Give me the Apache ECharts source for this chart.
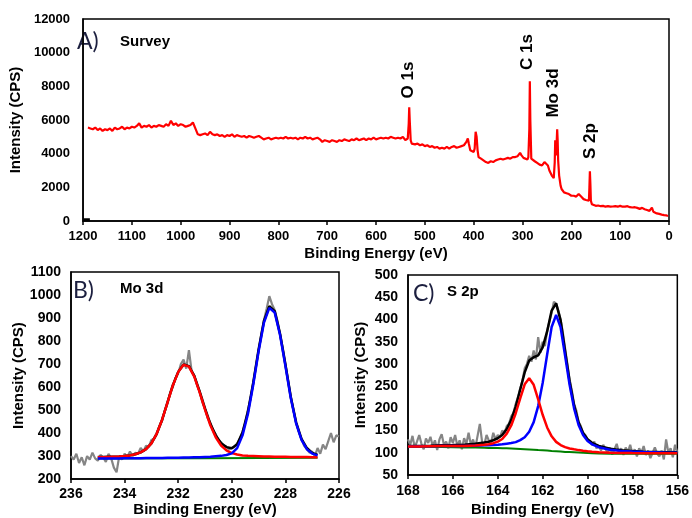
<!DOCTYPE html>
<html>
<head>
<meta charset="utf-8">
<script src="https://cdn.jsdelivr.net/npm/echarts@6/dist/echarts.min.js"></script>
<style>html,body{margin:0;padding:0;background:#fff}#c{width:692px;height:518px}</style>
</head>
<body>
<div id="c"></div>
<script>
// ---------- A) Survey ----------
const surveyE = [1190,1185,1180,1175,1170,1165,1160,1155,1150,1145,1140,1135,1130,1125,1120,1115,1110,1105,1100,1095,1090,1085,1080,1075,1070,1065,1060,1055,1050,1045,1040,1035,1030,1025,1020,1015,1010,1005,1000,995,990,985,980,975,970,965,960,955,950,945,940,935,930,925,920,915,910,905,900,895,890,885,880,875,870,865,860,855,850,845,840,835,830,825,820,815,810,805,800,795,790,785,780,775,770,765,760,755,750,745,740,735,730,725,720,715,710,705,700,695,690,685,680,675,670,665,660,655,650,645,640,635,630,625,620,615,610,605,600,595,590,585,580,575,570,565,560,555,550,545,540,537,535,533,532,531,529,527,525,520,515,510,505,500,495,490,485,480,475,470,465,460,455,450,445,440,435,430,425,420,415,412,410,407,403,400,398,396,394,392,390,385,380,375,370,365,360,355,350,345,340,335,330,325,320,315,310,305,302,298,295,290,288,286,285,284,282,280,275,270,265,260,255,252,248,245,240,236,234,233,232,231,230,229,228,227,225,222,220,215,210,205,200,195,190,185,180,175,170,167,164,163,162,161,160,158,155,150,145,140,135,130,125,120,115,110,105,100,98,95,90,85,80,75,70,65,60,55,50,45,40,35,32,30,25,20,15,10,5,2];
const surveyI = [5550,5500,5450,5550,5400,5500,5350,5450,5400,5500,5350,5550,5450,5500,5600,5450,5550,5500,5600,5550,5650,5800,5550,5650,5600,5700,5550,5650,5600,5700,5650,5600,5750,5650,5950,5700,5800,5650,5750,5700,5600,5650,5700,5850,5500,5150,5100,5150,5200,5100,5300,5150,5100,5150,5050,5100,5000,5100,5050,5150,5000,5100,5050,5000,5050,4950,5050,5000,4950,5000,5050,4950,4850,4900,4950,4850,4900,4950,4900,4950,4900,5000,4900,4950,4900,4950,4850,4950,4900,5000,4900,4950,4850,4900,4950,4850,4700,4800,4750,4700,4800,4750,4700,4800,4750,4850,4800,4750,4850,4800,4900,4800,4850,4900,4800,4900,4850,4950,4850,4900,4950,4900,4950,4900,5000,4950,4900,4950,4900,5000,4800,4700,4900,5800,6750,6000,4800,4600,4650,4550,4600,4500,4550,4450,4500,4400,4450,4350,4400,4300,4350,4300,4400,4300,4400,4450,4350,4400,4450,4500,4700,4900,4600,4200,4150,4100,4300,5300,5000,4200,3800,3700,3600,3500,3450,3550,3500,3600,3650,3700,3650,3700,3750,3700,3800,3800,3850,4050,3900,3750,3700,3650,3800,5500,8300,6000,3700,3600,3550,3450,3350,3300,3500,3550,3300,3000,2700,2550,3500,4800,4600,3900,4700,5450,4800,3600,2700,2100,1900,1700,1650,1600,1500,1500,1450,1600,1450,1300,1250,1150,1200,2000,2950,2200,1200,1000,950,900,920,880,900,850,880,850,860,880,850,900,1000,850,850,880,820,800,820,780,720,780,700,650,600,800,550,500,450,420,380,350,330,300];
const surveyPeaks = ['O 1s','C 1s','Mo 3d','S 2p'];

// ---------- B) Mo 3d ----------
const moRawE = [236.0,235.9,235.8,235.7,235.6,235.5,235.4,235.3,235.2,235.1,235.0,234.9,234.8,234.7,234.6,234.5,234.4,234.3,234.2,234.1,234.0,233.9,233.8,233.7,233.6,233.5,233.4,233.3,233.2,233.1,233.0,232.9,232.8,232.7,232.6,232.5,232.4,232.3,232.2,232.1,232.0,231.9,231.8,231.7,231.6,231.5,231.4,231.3,231.2,231.1,231.0,230.9,230.8,230.7,230.6,230.5,230.4,230.3,230.2,230.1,230.0,229.9,229.8,229.7,229.6,229.5,229.4,229.3,229.2,229.1,229.0,228.9,228.8,228.7,228.6,228.5,228.4,228.3,228.2,228.1,228.0,227.9,227.8,227.7,227.6,227.5,227.4,227.3,227.2,227.1,227.0,226.9,226.8,226.7,226.6,226.5,226.4,226.3,226.2,226.1,226.0];
const moRaw = [300,285,310,270,295,260,300,285,315,290,280,305,295,275,310,290,250,230,300,285,310,295,320,300,315,310,335,320,345,340,370,375,395,430,455,495,530,575,600,640,660,700,720,680,760,670,650,610,580,535,505,465,445,410,395,370,360,345,340,330,335,340,355,375,405,445,500,550,620,690,760,830,890,940,995,960,935,890,830,770,700,630,560,500,445,405,375,345,330,315,320,300,335,310,350,330,365,400,360,390,385];
const moFitE = [235.0,234.8,234.6,234.4,234.2,234.0,233.8,233.6,233.4,233.2,233.0,232.8,232.6,232.4,232.2,232.0,231.8,231.6,231.4,231.2,231.0,230.8,230.6,230.4,230.2,230.0,229.8,229.6,229.4,229.2,229.0,228.8,228.6,228.4,228.2,228.0,227.8,227.6,227.4,227.2,227.0,226.8];
const moRed = [295,295,296,297,298,300,303,308,316,330,355,398,458,532,607,665,697,689,645,577,502,434,382,346,325,313,307,303,301,300,299,298,298,297,297,297,296,296,296,296,295,295];
const moBlue = [290,290,290,290,290,291,291,291,291,292,292,292,292,293,293,293,294,294,295,295,296,297,299,301,305,312,335,390,482,610,755,880,944,924,826,692,552,442,370,330,311,303];
const moEnvelope = [296,296,297,297,298,300,303,308,316,330,355,398,458,533,608,666,698,691,649,581,507,440,390,356,339,334,351,402,492,619,763,887,951,930,832,698,557,447,375,335,314,305];
const moBgE = [235.0,231.0,226.8];
const moBg = [289,291,293];

// ---------- C) S 2p ----------
const sRawE = [168.0,167.9,167.8,167.7,167.6,167.5,167.4,167.3,167.2,167.1,167.0,166.9,166.8,166.7,166.6,166.5,166.4,166.3,166.2,166.1,166.0,165.9,165.8,165.7,165.6,165.5,165.4,165.3,165.2,165.1,165.0,164.9,164.8,164.7,164.6,164.5,164.4,164.3,164.2,164.1,164.0,163.9,163.8,163.7,163.6,163.5,163.4,163.3,163.2,163.1,163.0,162.9,162.8,162.7,162.6,162.5,162.4,162.3,162.2,162.1,162.0,161.9,161.8,161.7,161.6,161.5,161.4,161.3,161.2,161.1,161.0,160.9,160.8,160.7,160.6,160.5,160.4,160.3,160.2,160.1,160.0,159.9,159.8,159.7,159.6,159.5,159.4,159.3,159.2,159.1,159.0,158.9,158.8,158.7,158.6,158.5,158.4,158.3,158.2,158.1,158.0,157.9,157.8,157.7,157.6,157.5,157.4,157.3,157.2,157.1,157.0,156.9,156.8,156.7,156.6,156.5,156.4,156.3,156.2,156.1,156.0];
const sRaw = [130,118,138,112,125,140,120,108,132,122,136,115,128,106,130,142,118,125,110,135,122,140,115,128,108,133,120,145,118,130,112,138,165,125,118,140,128,122,145,130,140,135,150,145,160,165,182,190,210,225,245,262,290,300,318,305,330,310,360,325,350,340,375,395,415,440,435,420,400,370,335,300,265,240,210,195,170,160,145,140,130,125,118,125,110,115,105,118,108,100,112,96,108,120,100,110,95,112,102,118,98,108,92,110,100,115,95,105,88,100,112,98,92,105,85,130,100,110,90,118,100];
const sFitE = [168,167.5,167,166.5,166,165.5,165,164.6,164.4,164.2,164,163.8,163.6,163.4,163.2,163,162.8,162.6,162.4,162.2,162,161.8,161.6,161.4,161.2,161,160.8,160.6,160.4,160.2,160,159.8,159.5,159,158.5,158,157.5,157,156.5,156];
const sRed = [114,114,114.5,115,115,115.3,116.6,118,119,121.6,125,131,143,161.5,189,222.5,254,267.5,253,220,185.5,157,137,124.5,117.4,112.6,109.5,107.7,106,104.6,103.5,102.5,101.4,100.2,99.7,99.3,99,99,99,99];
const sBlue = [114,114.5,114.7,115,115,115,116,116.7,116.8,117.6,118.2,119,120.5,122,124,128.5,135,147.5,169,205,257,321,383,410,382,318,253,200,162.5,140,126.5,119,112.5,107,104,102.6,101.5,101,100,100];
const sEnvelope = [115,115.5,116,117,117.5,118.3,120.6,123.2,124.8,128.2,132.7,140,153.5,174,204,242.5,281,307.5,315,319,337,373,420,436,398,328.6,261,206.7,168,144.6,130.5,122.5,115.4,109.2,105.7,103.9,102.5,102,101,101];
const sBg = [113,113,113,113,112.5,112,112,111.5,111,111,110.5,110,110,109.5,109,108.5,108,107.5,107,106,105.5,105,104,103.5,103,102,101.5,101,100.5,100,99.5,99,98.5,98,98,98,98,98,98,98];

const zip = (xs, ys) => xs.map((x, i) => [x, ys[i]]);

const FONT = '"Liberation Sans", Arial, sans-serif';
const lbl = (size, margin) => ({color:'#000', fontWeight:'bold', fontFamily:FONT, fontSize:size, margin:margin, formatter:(v) => String(v)});
const nameStyle = {color:'#000', fontWeight:'bold', fontFamily:FONT, fontSize:15};
const axLine = {show:true, onZero:false, lineStyle:{color:'#000', width:1.5}};

function xAx(gi, min, max, interval, size, margin, gap) {
  return {gridIndex:gi, type:'value', min:min, max:max, interval:interval, inverse:true,
    axisLine:axLine, axisTick:{show:true, length:4, lineStyle:{color:'#000', width:1.5}},
    splitLine:{show:false}, axisLabel:lbl(size, margin),
    name:'Binding Energy (eV)', nameLocation:'middle', nameGap:gap, nameTextStyle:nameStyle};
}
function yAx(gi, min, max, interval, size, margin, gap) {
  return {gridIndex:gi, type:'value', min:min, max:max, interval:interval,
    axisLine:axLine, axisTick:{show:false}, splitLine:{show:false}, axisLabel:lbl(size, margin),
    name:'Intensity (CPS)', nameLocation:'middle', nameGap:gap, nameTextStyle:nameStyle};
}
function line(xi, data, color, width, z) {
  return {type:'line', xAxisIndex:xi, yAxisIndex:xi, data:data, showSymbol:false, symbol:'none',
    lineStyle:{color:color, width:width}, smooth:false, z:z, silent:true, animation:false};
}

const chart = echarts.init(document.getElementById('c'), null, {renderer:'canvas'});
const panelLbl = (x, y, t) => ({type:'text', x:x, y:y, style:{text:t, fontFamily:'Lato, "Open Sans", sans-serif', fontSize:23, fill:'#1c1f3f', textVerticalAlign:'middle'}});
const boldLbl = (x, y, t) => ({type:'text', x:x, y:y, style:{text:t, fontFamily:FONT, fontWeight:'bold', fontSize:15, fill:'#000', textVerticalAlign:'middle'}});
const rotLbl = (x, y, t) => ({type:'text', x:x, y:y, rotation:Math.PI/2, style:{text:t, fontFamily:FONT, fontWeight:'bold', fontSize:17, fill:'#000', textAlign:'center', textVerticalAlign:'middle'}});

chart.setOption({
  animation:false,
  backgroundColor:'#fff',
  grid:[
    {left:70, top:19, width:599, height:202, show:true, borderColor:'#000', borderWidth:1.5, containLabel:false},
    {left:71, top:272, width:268, height:210, show:true, borderColor:'#000', borderWidth:1.5, containLabel:false},
    {left:408, top:275, width:271, height:200, show:true, borderColor:'#000', borderWidth:1.5, containLabel:false}
  ],
  xAxis:[
    xAx(0, 0, 1200, 100, 13, 9, 25),
    xAx(1, 226, 236, 2, 14, 8, 22),
    xAx(2, 156, 168, 2, 14, 9, 27)
  ],
  yAxis:[
    yAx(0, 0, 12000, 2000, 13, 13, 48),
    yAx(1, 200, 1100, 100, 14, 10, 44),
    yAx(2, 50, 500, 50, 14, 10, 40)
  ],
  series:[
    line(0, zip(surveyE, surveyI), '#ff0000', 2.2, 3),
    line(0, [[1199,70],[1186,70]], '#000', 3, 2),
    line(1, zip(moRawE, moRaw), '#858585', 2.2, 1),
    line(1, zip(moFitE, moEnvelope), '#000', 2.5, 2),
    line(1, zip(moBgE, moBg), '#008000', 2, 3),
    line(1, zip(moFitE, moRed), '#ff0000', 2.5, 4),
    line(1, zip(moFitE, moBlue), '#0000ff', 2.5, 5),
    line(2, zip(sRawE, sRaw), '#858585', 2.2, 1),
    line(2, zip(sFitE, sBg), '#008000', 2, 2),
    line(2, zip(sFitE, sEnvelope), '#000', 2.5, 3),
    line(2, zip(sFitE, sBlue), '#0000ff', 2.5, 4),
    line(2, zip(sFitE, sRed), '#ff0000', 2.5, 5)
  ],
  graphic:[
    panelLbl(77, 42, 'A)'), boldLbl(120, 42, 'Survey'),
    panelLbl(73, 291, 'B)'), boldLbl(120, 289, 'Mo 3d'),
    panelLbl(413, 294, 'C)'), boldLbl(447, 292, 'S 2p'),
    rotLbl(408, 80, surveyPeaks[0]),
    rotLbl(527, 52, surveyPeaks[1]),
    rotLbl(553, 93, surveyPeaks[2]),
    rotLbl(590, 141, surveyPeaks[3])
  ]
});
</script>
</body>
</html>
